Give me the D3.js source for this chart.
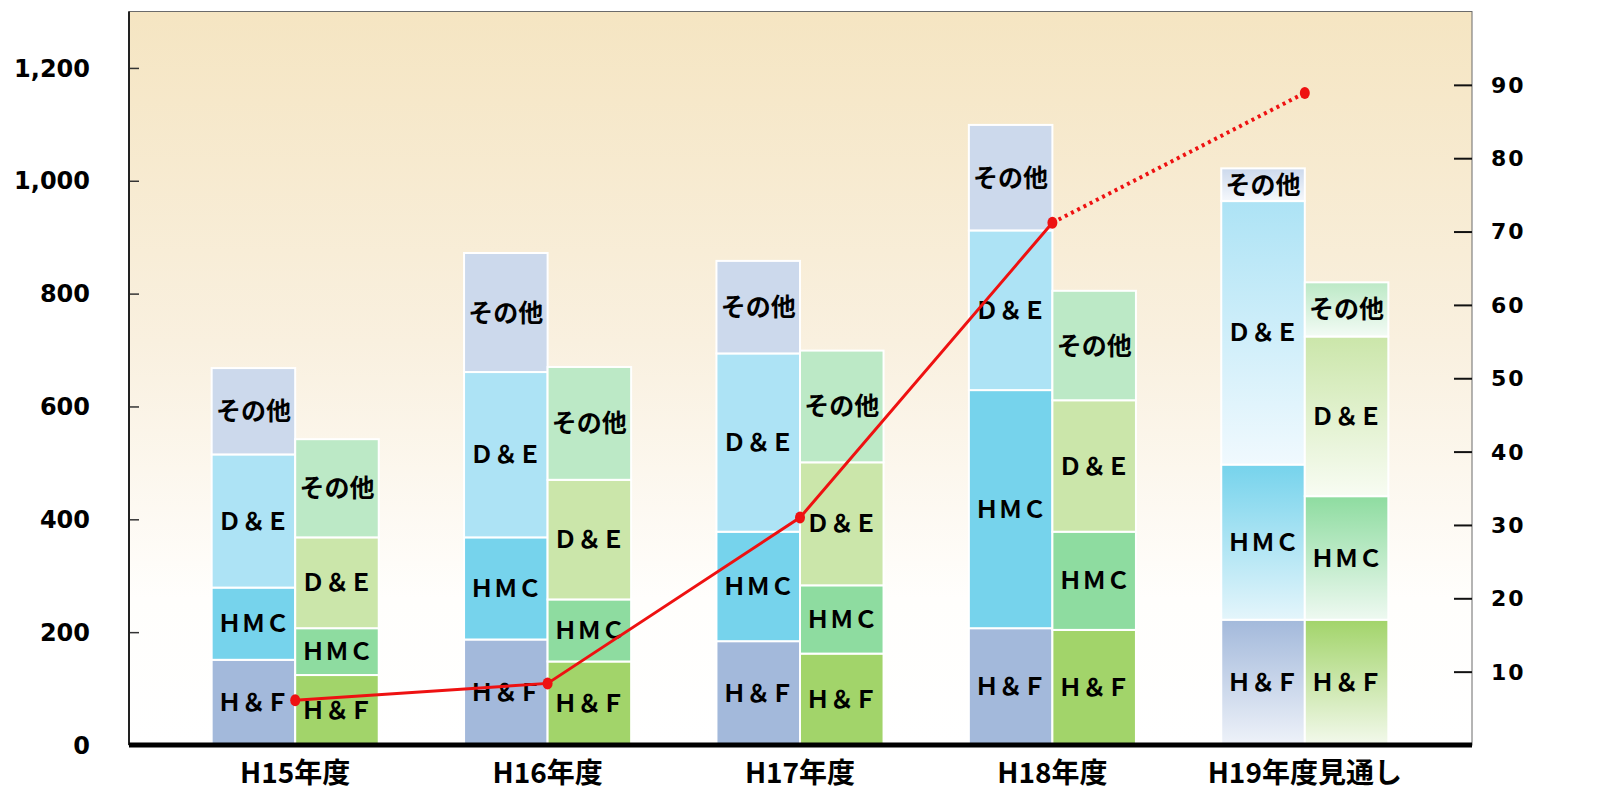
<!DOCTYPE html>
<html>
<head>
<meta charset="utf-8">
<script src="https://cdn.jsdelivr.net/npm/d3@7"></script>
<style>
  body { margin: 0; background: #fff; }
  svg { display: block; }
  .num { font-family: "DejaVu Sans", sans-serif; font-weight: bold; fill: #000; }
  .jp { font-family: "Noto Sans CJK JP", sans-serif; font-weight: bold; fill: #000; }
</style>
</head>
<body>
<svg id="chart"></svg>
<script>
/// DATA ////////////////////////////////////////////////////////////////////////////////

var years = ["H15年度", "H16年度", "H17年度", "H18年度", "H19年度見通し"];
var segKeys = ["hf", "hmc", "de", "other"];
var segLabels = { hf: "Ｈ＆Ｆ", hmc: "ＨＭＣ", de: "Ｄ＆Ｅ", other: "その他" };

// left (blue) bar of each year
var blueHF    = [151, 187, 184, 207, 222];
var blueHMC   = [128, 181, 194, 422, 275];
var blueDE    = [236, 293, 316, 283, 467];
var blueOther = [153, 211, 164, 187, 58];

// right (green) bar of each year
var greenHF    = [124, 148, 162, 204, 222];
var greenHMC   = [83, 110, 121, 174, 219];
var greenDE    = [161, 212, 218, 233, 283];
var greenOther = [174, 200, 198, 194, 96];

// line on right axis
var lineValues = [6.1, 8.4, 31.0, 71.2, 88.9];

var leftTicks = [0, 200, 400, 600, 800, 1000, 1200];
var rightTicks = [10, 20, 30, 40, 50, 60, 70, 80, 90];

/// SETUP ///////////////////////////////////////////////////////////////////////////////

var W = 1598, H = 794;
var PLOT_L = 129, PLOT_R = 1472, PLOT_T = 11.5, BASE = 745;

var svg = d3.select('#chart').attr('width', W).attr('height', H);
var defs = svg.append('defs');

var bg = defs.append('linearGradient').attr('id', 'bgGrad')
    .attr('x1', 0).attr('y1', 0).attr('x2', 0).attr('y2', 1);
bg.append('stop').attr('offset', '0%').attr('stop-color', '#f5e5c2');
bg.append('stop').attr('offset', '45%').attr('stop-color', '#f9f0df');
bg.append('stop').attr('offset', '80%').attr('stop-color', '#fffefc');
bg.append('stop').attr('offset', '100%').attr('stop-color', '#ffffff');

var blueColor  = { hf: '#a3b9db', hmc: '#76d3ec', de: '#ade3f5', other: '#ccd9ec' };
var greenColor = { hf: '#a2d46a', hmc: '#8edca0', de: '#cbe6aa', other: '#bce9c6' };
var fadeBlue   = { hf: '#eef2f9', hmc: '#e4f5fb', de: '#f0f9fe', other: '#f5f8fc' };
var fadeGreen  = { hf: '#f3f9ec', hmc: '#eef9f1', de: '#f8fcf3', other: '#f3fbf5' };

// gradients used by the forecast year (H19)
function makeFade(id, top, bottom) {
    var g = defs.append('linearGradient').attr('id', id)
        .attr('x1', 0).attr('y1', 0).attr('x2', 0).attr('y2', 1);
    g.append('stop').attr('offset', '0%').attr('stop-color', top);
    g.append('stop').attr('offset', '100%').attr('stop-color', bottom);
}
segKeys.forEach(function (k) {
    makeFade('fadeB_' + k, blueColor[k], fadeBlue[k]);
    makeFade('fadeG_' + k, greenColor[k], fadeGreen[k]);
});

var x = d3.scaleBand().domain(years).range([169, 1431]);
var barW = x.bandwidth() * 0.331;
var yL = d3.scaleLinear().domain([0, 1300]).range([BASE, PLOT_T]);
var yR = d3.scaleLinear().domain([0, 100]).range([BASE, PLOT_T]);

function rows(hf, hmc, de, other) {
    return years.map(function (yr, i) {
        return { year: yr, i: i, hf: hf[i], hmc: hmc[i], de: de[i], other: other[i] };
    });
}
var stack = d3.stack().keys(segKeys);
var blueStack = stack(rows(blueHF, blueHMC, blueDE, blueOther));
var greenStack = stack(rows(greenHF, greenHMC, greenDE, greenOther));

/////////////////////////////////////////////////////////////////////////////////////////

// plot background
svg.append('rect')
    .attr('x', PLOT_L).attr('y', PLOT_T)
    .attr('width', PLOT_R - PLOT_L).attr('height', BASE - PLOT_T)
    .attr('fill', 'url(#bgGrad)')
    .attr('stroke', '#6b6b6b').attr('stroke-width', 1);

function drawBars(series, side, colors, fadePrefix) {
    series.forEach(function (s) {
        var k = s.key;
        var g = svg.append('g');
        g.selectAll('rect')
            .data(s)
            .enter()
            .append('rect')
                .attr('x', function (d) { return x(d.data.year) + x.bandwidth() / 2 + (side < 0 ? -barW : 0) })
                .attr('y', function (d) { return yL(d[1]) })
                .attr('width', barW)
                .attr('height', function (d) { return yL(d[0]) - yL(d[1]) })
                .attr('fill', function (d) { return d.data.i === 4 ? 'url(#' + fadePrefix + k + ')' : colors[k] })
                .attr('stroke', '#fff')
                .attr('stroke-width', 2);
        g.selectAll('text')
            .data(s)
            .enter()
            .append('text')
                .attr('class', 'jp')
                .attr('x', function (d) { return x(d.data.year) + x.bandwidth() / 2 + (side < 0 ? -barW / 2 : barW / 2) })
                .attr('y', function (d) { return (yL(d[0]) + yL(d[1])) / 2 })
                .attr('dy', '0.36em')
                .attr('text-anchor', 'middle')
                .style('font-size', k === 'other' ? '25px' : '24px')
                .text(segLabels[k]);
    });
}
drawBars(blueStack, -1, blueColor, 'fadeB_');
drawBars(greenStack, 1, greenColor, 'fadeG_');

// left axis
var leftAxis = svg.append('g').attr('transform', 'translate(' + PLOT_L + ',0)')
    .call(d3.axisRight(yL).tickValues(leftTicks).tickSize(10).tickFormat(''));
leftAxis.select('.domain').remove();
leftAxis.selectAll('line').attr('stroke', '#333').attr('stroke-width', 1.5);
svg.append('line')
    .attr('x1', PLOT_L).attr('x2', PLOT_L).attr('y1', PLOT_T).attr('y2', BASE)
    .attr('stroke', '#222').attr('stroke-width', 2);
svg.selectAll('.ltick')
    .data(leftTicks)
    .enter()
    .append('text')
        .attr('class', 'num')
        .attr('x', 90)
        .attr('y', function (d) { return yL(d) })
        .attr('dy', '0.36em')
        .attr('text-anchor', 'end')
        .style('font-size', '24px')
        .text(d3.format(','));

// right axis
var rightAxis = svg.append('g').attr('transform', 'translate(' + PLOT_R + ',0)')
    .call(d3.axisLeft(yR).tickValues(rightTicks).tickSize(18).tickFormat(''));
rightAxis.select('.domain').remove();
rightAxis.selectAll('line').attr('stroke', '#111').attr('stroke-width', 2);
svg.selectAll('.rtick')
    .data(rightTicks)
    .enter()
    .append('text')
        .attr('class', 'num')
        .attr('x', 1491)
        .attr('y', function (d) { return yR(d) })
        .attr('dy', '0.36em')
        .style('font-size', '22px')
        .style('letter-spacing', '2px')
        .text(function (d) { return d });

// bottom axis
svg.append('line')
    .attr('x1', PLOT_L).attr('x2', PLOT_R).attr('y1', BASE).attr('y2', BASE)
    .attr('stroke', '#000').attr('stroke-width', 5);
svg.selectAll('.xlab')
    .data(years)
    .enter()
    .append('text')
        .attr('class', 'jp')
        .attr('x', function (d) { return x(d) + x.bandwidth() / 2 })
        .attr('y', 783)
        .attr('text-anchor', 'middle')
        .style('font-size', '28px')
        .text(function (d) { return d });

// red line: actual years solid, forecast dotted
var pts = lineValues.map(function (v, i) { return [x(years[i]) + x.bandwidth() / 2, yR(v)] });
var line = d3.line();
svg.append('path')
    .attr('d', line(pts.slice(0, 4)))
    .attr('fill', 'none').attr('stroke', '#ee1111').attr('stroke-width', 3);
svg.append('path')
    .attr('d', line(pts.slice(3)))
    .attr('fill', 'none').attr('stroke', '#ee1111').attr('stroke-width', 4)
    .attr('stroke-dasharray', '3,4');
svg.selectAll('.pt')
    .data(pts)
    .enter()
    .append('ellipse')
        .attr('cx', function (d) { return d[0] })
        .attr('cy', function (d) { return d[1] })
        .attr('rx', 5).attr('ry', 6)
        .attr('fill', '#ee1111');
</script>
</body>
</html>
